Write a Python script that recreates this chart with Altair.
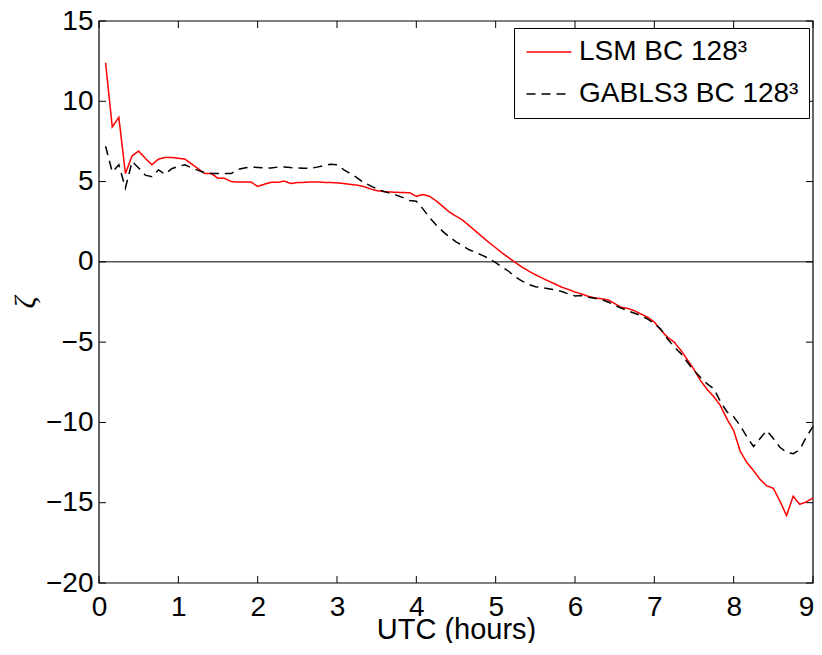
import altair as alt
import pandas as pd

# ---------------- data ----------------
lsm_t = [0.083, 0.167, 0.25, 0.333, 0.417, 0.5, 0.583, 0.667, 0.75, 0.833, 0.917, 1.0,
         1.083, 1.167, 1.25, 1.333, 1.417, 1.5, 1.583, 1.667, 1.75, 1.833, 1.917, 2.0,
         2.083, 2.167, 2.25, 2.333, 2.417, 2.5, 2.583, 2.667, 2.75, 2.833, 2.917, 3.0,
         3.083, 3.167, 3.25, 3.333, 3.417, 3.5, 3.583, 3.667, 3.75, 3.833, 3.917, 4.0,
         4.083, 4.167, 4.25, 4.333, 4.417, 4.5, 4.583, 4.667, 4.75, 4.833, 4.917, 5.0,
         5.083, 5.167, 5.25, 5.333, 5.417, 5.5, 5.583, 5.667, 5.75, 5.833, 5.917, 6.0,
         6.083, 6.167, 6.25, 6.333, 6.417, 6.5, 6.583, 6.667, 6.75, 6.833, 6.917, 7.0,
         7.083, 7.167, 7.25, 7.333, 7.417, 7.5, 7.583, 7.667, 7.75, 7.833, 7.917, 8.0,
         8.083, 8.167, 8.25, 8.333, 8.417, 8.5, 8.583, 8.667, 8.75, 8.833, 8.917, 9.0]
lsm_v = [12.4, 8.4, 9.0, 5.5, 6.6, 6.9, 6.45, 6.05, 6.4, 6.5, 6.5, 6.45,
         6.4, 6.1, 5.8, 5.5, 5.5, 5.2, 5.2, 5.0, 4.97, 4.97, 4.97, 4.7,
         4.83, 4.95, 4.95, 5.03, 4.88, 4.94, 4.95, 4.97, 4.98, 4.95, 4.94, 4.92,
         4.88, 4.83, 4.78, 4.7, 4.55, 4.44, 4.38, 4.35, 4.33, 4.32, 4.3, 4.08,
         4.2, 4.08, 3.8, 3.45, 3.1, 2.85, 2.6, 2.25, 1.9, 1.55, 1.2, 0.88,
         0.55, 0.25, -0.05, -0.33, -0.58, -0.8, -1.0, -1.2, -1.38, -1.58, -1.72, -1.88,
         -2.0, -2.15, -2.25, -2.3, -2.37, -2.6, -2.83, -2.9, -3.05, -3.25, -3.45, -3.75,
         -4.25, -4.7, -5.0, -5.5, -6.1, -6.7, -7.4, -7.95, -8.4, -8.95, -9.8, -10.5,
         -11.8, -12.5, -13.0, -13.55, -13.95, -14.1, -14.9, -15.8, -14.6, -15.1, -14.95, -14.7]

gab_t = lsm_t
gab_v = [7.2, 5.6, 6.05, 4.6, 6.25, 5.85, 5.4, 5.3, 5.73, 5.46, 5.8, 5.95,
         6.04, 5.85, 5.7, 5.55, 5.5, 5.5, 5.5, 5.5, 5.75, 5.85, 5.9, 5.88,
         5.85, 5.85, 5.9, 5.9, 5.87, 5.85, 5.83, 5.83, 5.9, 6.0, 6.08, 6.05,
         5.75, 5.5, 5.25, 4.95, 4.75, 4.55, 4.4, 4.27, 4.15, 4.0, 3.82, 3.78,
         3.3, 2.75, 2.3, 1.9, 1.55, 1.25, 1.0, 0.75, 0.58, 0.4, 0.2, -0.05,
         -0.33, -0.6, -0.95, -1.2, -1.4, -1.55, -1.6, -1.68, -1.75, -1.85, -2.0, -2.12,
         -2.1, -2.2, -2.27, -2.35, -2.5, -2.7, -2.88, -3.05, -3.2, -3.35, -3.56, -3.85,
         -4.2, -4.8, -5.3, -5.7, -6.25, -6.77, -7.2, -7.6, -7.9, -8.7, -9.35, -9.65,
         -10.2, -10.9, -11.5, -11.0, -10.5, -11.0, -11.55, -11.85, -11.95, -11.7, -10.9, -10.25]

series_names = ["LSM BC 128\u00b3", "GABLS3 BC 128\u00b3"]
series_colors = ["#ff0000", "#000000"]
x_ticks = [0, 1, 2, 3, 4, 5, 6, 7, 8, 9]
y_ticks = [-20, -15, -10, -5, 0, 5, 10, 15]
zero_level = [0]

# ---------------- tables ----------------
df = pd.concat([
    pd.DataFrame({"t": lsm_t, "v": lsm_v, "series": series_names[0]}),
    pd.DataFrame({"t": gab_t, "v": gab_v, "series": series_names[1]}),
], ignore_index=True)
xt = pd.DataFrame({"t": x_ticks})
yt = pd.DataFrame({"v": y_ticks})
zl = pd.DataFrame({"v": zero_level})
one = pd.DataFrame({"k": [0]})

W, H = 714, 562
FONT = "Liberation Sans"
TICK = 7

xs = alt.Scale(domain=[0, 9], nice=False, zero=False)
ys = alt.Scale(domain=[-20, 15], nice=False, zero=False)

x_axis = alt.Axis(
    values=x_ticks, ticks=False, tickSize=0, domain=False, grid=False,
    labelFont=FONT, labelFontSize=28, labelColor="black", labelPadding=10,
    labelFlush=False, labelOverlap=False,
    labelOffset={"condition": {"test": "datum.value == 9", "value": -7}, "value": 0},
    title="UTC (hours)", titleFont=FONT, titleFontSize=29, titleFontWeight="normal",
    titleColor="black", titleY=55, titleBaseline="alphabetic")
y_axis = alt.Axis(
    values=y_ticks, ticks=False, tickSize=0, domain=False, grid=False,
    labelFont=FONT, labelFontSize=28, labelColor="black", labelPadding=6,
    labelFlush=False, labelOverlap=False, format="d",
    title="\u03b6", titleFont="Liberation Serif", titleFontStyle="italic",
    titleFontSize=30, titleFontWeight="normal", titleColor="black",
    titleAngle=270, titleX=-74, titleY=H / 2, titleBaseline="middle")

legend = alt.Legend(
    title=None, orient="none", legendX=415, legendY=7,
    strokeColor="black", fillColor="white", padding=10, cornerRadius=0,
    symbolType="M-2,0H2", symbolSize=506, symbolStrokeWidth=1.5,
    symbolOffset=11, labelOffset=16,
    labelFont=FONT, labelFontSize=28, labelColor="black", labelLimit=400,
    rowPadding=14,
)

frame = alt.Chart(one).mark_rect(filled=False, stroke="black", strokeWidth=1.2).encode(
    x=alt.value(0), x2=alt.value(W), y=alt.value(0), y2=alt.value(H))

zero_line = alt.Chart(zl).mark_rule(color="black", strokeWidth=1).encode(
    y=alt.Y("v:Q", scale=ys, axis=y_axis)
)

lines = alt.Chart(df).mark_line(strokeWidth=1.5).encode(
    x=alt.X("t:Q", scale=xs, axis=x_axis),
    y=alt.Y("v:Q", scale=ys, axis=y_axis),
    color=alt.Color("series:N", scale=alt.Scale(domain=series_names, range=series_colors),
                    legend=legend),
    strokeDash=alt.StrokeDash("series:N",
                              scale=alt.Scale(domain=series_names, range=[[1, 0], [9, 6]]),
                              legend=legend),
    order=alt.Order("t:Q"),
)

tick_bottom = alt.Chart(xt).mark_rule(color="black", strokeWidth=1).encode(
    x=alt.X("t:Q", scale=xs, axis=x_axis), y=alt.value(H), y2=alt.value(H - TICK))
tick_top = alt.Chart(xt).mark_rule(color="black", strokeWidth=1).encode(
    x=alt.X("t:Q", scale=xs, axis=x_axis), y=alt.value(0), y2=alt.value(TICK))
tick_left = alt.Chart(yt).mark_rule(color="black", strokeWidth=1).encode(
    y=alt.Y("v:Q", scale=ys, axis=y_axis), x=alt.value(0), x2=alt.value(TICK))
tick_right = alt.Chart(yt).mark_rule(color="black", strokeWidth=1).encode(
    y=alt.Y("v:Q", scale=ys, axis=y_axis), x=alt.value(W), x2=alt.value(W - TICK))

chart = alt.layer(frame, zero_line, tick_bottom, tick_top, tick_left, tick_right, lines).properties(
    width=W, height=H, autosize="none", background="white",
    padding={"left": 91, "top": 13, "right": 1, "bottom": 60},
).configure_view(stroke=None)

chart.save("out.html", embed_options={"renderer": "svg", "actions": False})
